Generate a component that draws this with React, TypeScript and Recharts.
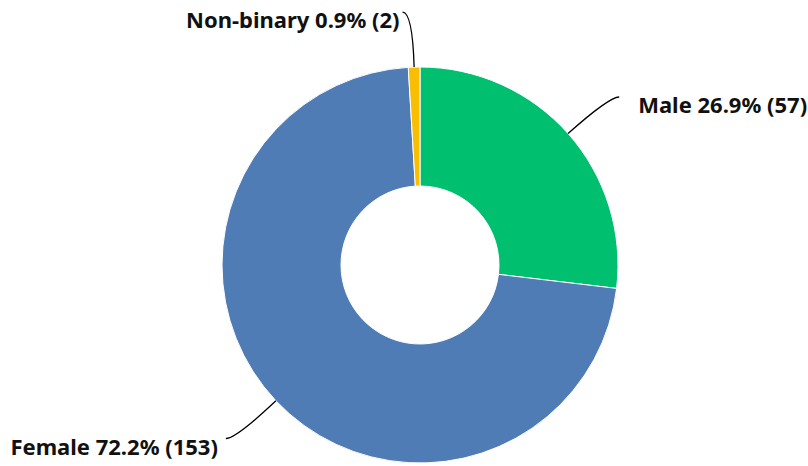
import React from 'react';
import { PieChart, Pie, Cell } from 'recharts';

// Respondent gender breakdown
const genders = ['Male', 'Female', 'Non-binary'];
const counts = [57, 153, 2];
const colors = ['#00BF6F', '#507CB6', '#F9BE00'];

const data = genders.map((name, i) => ({ name, value: counts[i] }));
const total = counts.reduce((a, b) => a + b, 0);

const RAD = Math.PI / 180;
const FONT = '"Noto Sans", Roboto, sans-serif';

// Curved connector from the slice edge out to a horizontal tail, with the label beside it
const renderLabel = (props: any) => {
  const { cx, cy, midAngle, outerRadius, name, value } = props;
  const cos = Math.cos(-midAngle * RAD);
  const sin = Math.sin(-midAngle * RAD);
  const sx = cx + outerRadius * cos;
  const sy = cy + outerRadius * sin;
  const ext = outerRadius + 55;
  const mx = cx + ext * cos;
  const my = cy + ext * sin;
  const dir = cos >= 0 ? 1 : -1;
  const ex = mx + dir * 10;
  const ey = my;
  const nearVertical = Math.abs(cos) < 0.1;
  const gap = nearVertical ? 3 : dir > 0 ? 19 : 8;
  const tx = ex + dir * gap;
  const pct = ((value / total) * 100).toFixed(1);
  return (
    <g>
      <path
        d={`M${sx},${sy} Q${mx},${my} ${ex},${ey}`}
        stroke="#000"
        strokeWidth={1.3}
        fill="none"
      />
      <text
        x={tx}
        y={ey + 7}
        textAnchor={dir > 0 ? 'start' : 'end'}
        dominantBaseline="central"
        fontFamily={FONT}
        fontWeight={700}
        fontSize={22}
        fill="#111"
      >
        {`${name} ${pct}% (${value})`}
      </text>
    </g>
  );
};

export default function App() {
  return (
    <div style={{ position: 'absolute', left: 0, top: 0, width: 808, height: 466, background: '#fff' }}>
      <PieChart width={808} height={466} margin={{ top: 0, right: 0, bottom: 0, left: 0 }}>
        <Pie
          data={data}
          dataKey="value"
          nameKey="name"
          cx={420}
          cy={265}
          innerRadius={79}
          outerRadius={198}
          startAngle={90}
          endAngle={-270}
          stroke="#fff"
          strokeWidth={1}
          label={renderLabel}
          labelLine={false}
          isAnimationActive={false}
        >
          {data.map((d, i) => (
            <Cell key={d.name} fill={colors[i]} />
          ))}
        </Pie>
      </PieChart>
    </div>
  );
}
